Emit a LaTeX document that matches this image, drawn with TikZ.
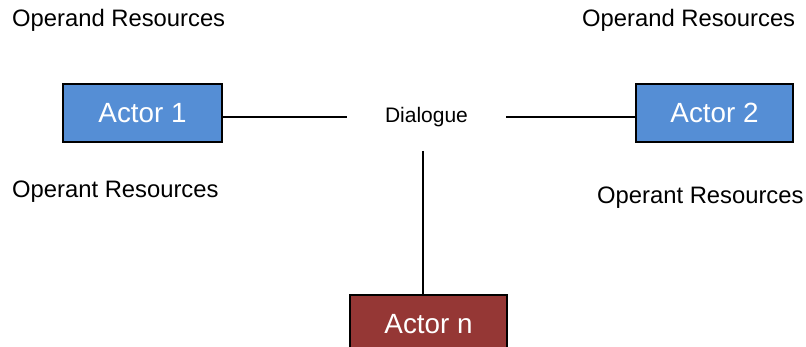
\documentclass[tikz,border=0pt]{standalone}
\usepackage{fontspec}
\setmainfont{Liberation Sans}
\definecolor{actorblue}{HTML}{558ED5}
\definecolor{actorred}{HTML}{953735}
\begin{document}
\begin{tikzpicture}[x=1pt,y=-1pt,
    actor/.style={draw=black, line width=1.8pt, text=white, minimum width=157pt,
      minimum height=58pt, inner sep=0pt, font=\fontsize{27.8}{32}\selectfont},
    res/.style={anchor=base west, inner sep=0pt, font=\fontsize{23.8}{28}\selectfont},
    link/.style={line width=1.5pt}]
            % page frame
            \useasboundingbox (0,0) rectangle (806,347);

            % Draw actors
            \node[actor, fill=actorblue, minimum width=159pt] (actor1) at (142.5,113) {Actor 1};
            \node[actor, fill=actorblue] (actor2) at (714.5,113) {Actor 2};
            \node[actor, fill=actorred] (actorn) at (428.5,324) {Actor n};

            % Dialogue in the middle
            \node[minimum width=159pt, minimum height=68pt, inner sep=0pt,
              font=\fontsize{21}{25}\selectfont] (dialogue) at (426.5,117) {Dialogue};
            \coordinate (vtop) at (423,151);

            % Draw links
            \draw[link] (dialogue.west) -- (dialogue.west -| actor1.east);
            \draw[link] (dialogue.east) -- (dialogue.east -| actor2.west);
            \draw[link] (vtop) -- (vtop |- actorn.north);

            % Add labels
            \node[res] (operand1) at (12,27) {Operand Resources};
            \node[res] (operand2) at (582,27) {Operand Resources};
            \node[res] (operant1) at (12,197.5) {Operant Resources};
            \node[res] (operant2) at (597,204) {Operant Resources};
        \end{tikzpicture}
\end{document}
